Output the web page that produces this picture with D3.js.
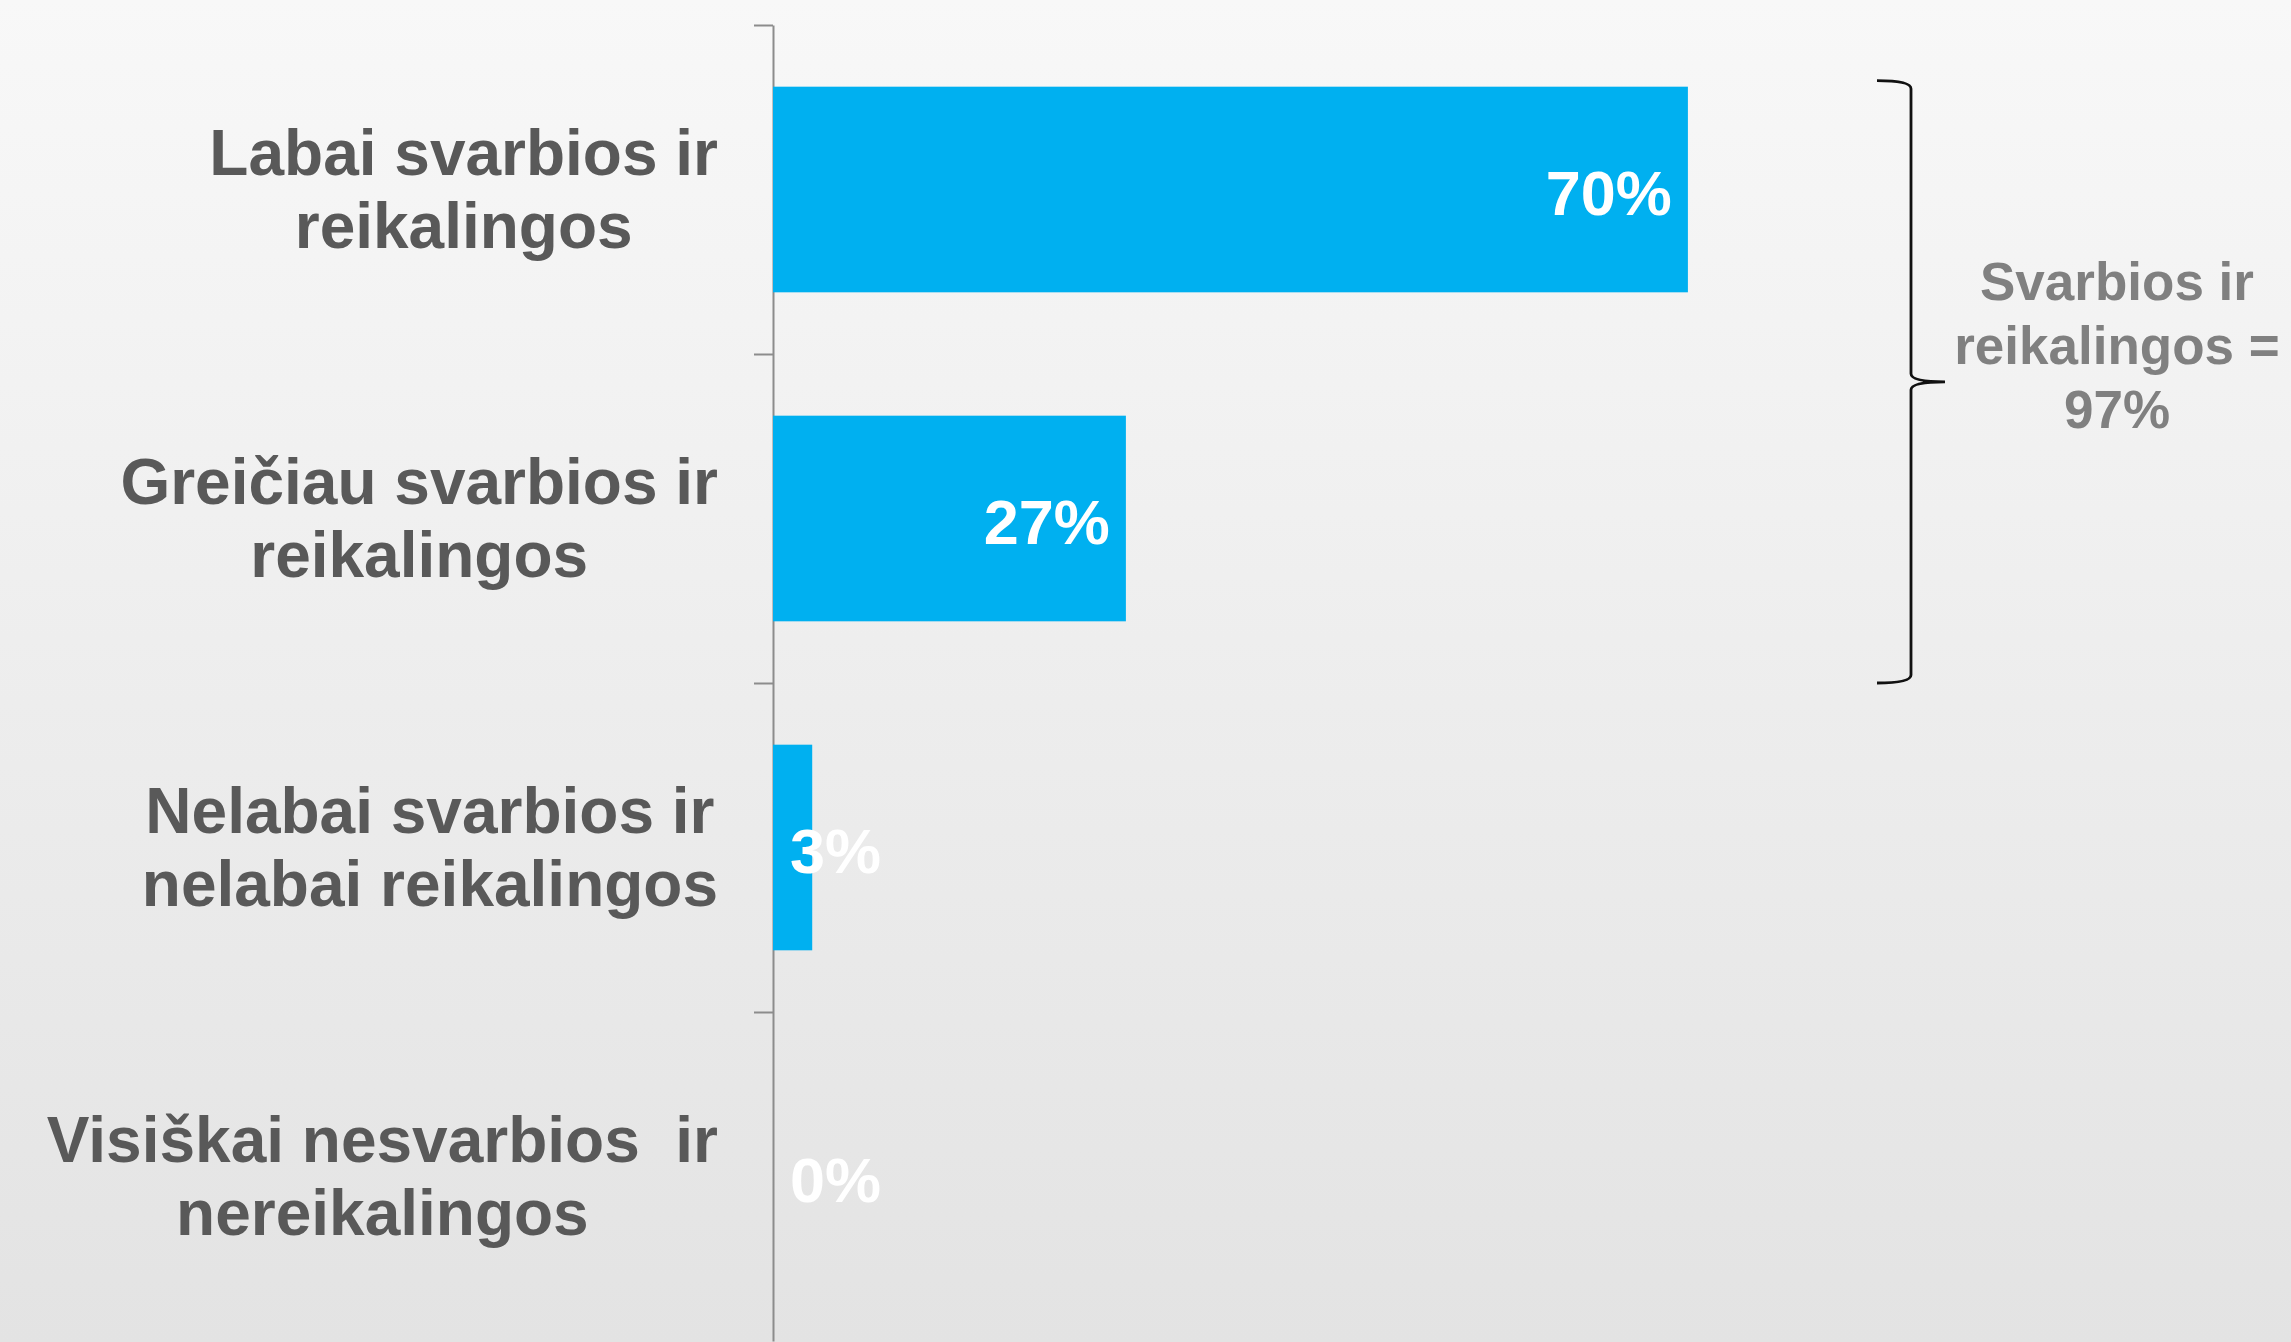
<!DOCTYPE html>
<html>
<head>
    <meta charset="utf-8">
    <title>Svarbios ir reikalingos</title>
    <script src="https://d3js.org/d3.v7.min.js"></script>
    <style>
        body { margin: 0; overflow: hidden; }
        svg { display: block; font-family: "Liberation Sans", Arial, sans-serif; font-weight: bold; }
        .cat { fill: #595959; font-size: 64px; white-space: pre; }
        .val { fill: #fff; font-size: 63px; }
        .note { fill: #808080; font-size: 53px; }
        .axis path, .axis line { stroke: #8c8c8c; stroke-width: 2; }
    </style>
</head>
<body>
    <div id="chart"></div>
    <script>
        const categories = ["labai", "greiciau", "nelabai", "visiskai"];
        const values = [70, 27, 3, 0];
        const valueLabels = ["70%", "27%", "3%", "0%"];
        const categoryLines = [
            ["Labai svarbios ir", "reikalingos"],
            ["Greičiau svarbios ir", "reikalingos"],
            ["Nelabai svarbios ir", "nelabai reikalingos"],
            ["Visiškai nesvarbios  ir", "nereikalingos"]
        ];
        const noteLines = ["Svarbios ir", "reikalingos =", "97%"];

        const width = 2291;
        const height = 1342;
        const x0 = 773;

        const svg = d3.select("#chart")
            .append("svg")
            .attr("width", width)
            .attr("height", height);

        // background gradient
        const grad = svg.append("defs").append("linearGradient")
            .attr("id", "bg").attr("x1", 0).attr("x2", 0).attr("y1", 0).attr("y2", 1);
        grad.append("stop").attr("offset", "0%").attr("stop-color", "#f8f8f8");
        grad.append("stop").attr("offset", "100%").attr("stop-color", "#e3e3e3");
        svg.append("rect").attr("width", width).attr("height", height).attr("fill", "url(#bg)");

        const x = d3.scaleLinear().domain([0, 100]).range([x0, x0 + 1307]);
        const y = d3.scaleBand()
            .domain(categories)
            .range([25, 1341])
            .paddingInner(0.375)
            .paddingOuter(0.1875);

        // axis with ticks between categories
        const yb = d3.scaleLinear().domain([0, categories.length]).range(y.range());
        svg.append("g")
            .attr("class", "axis")
            .attr("transform", `translate(${x0},0)`)
            .call(d3.axisLeft(yb).tickValues(d3.range(categories.length)).tickSize(19).tickSizeOuter(0).tickFormat(""));

        svg.selectAll(".bar")
            .data(categories)
            .enter()
            .append("rect")
            .attr("x", x(0))
            .attr("y", d => y(d))
            .attr("width", (d, i) => x(values[i]) - x(0))
            .attr("height", y.bandwidth())
            .attr("fill", "#00b0f0");

        // value labels, inside the bar end; small bars push it out
        svg.selectAll(".val")
            .data(categories)
            .enter()
            .append("text")
            .attr("class", "val")
            .attr("text-anchor", "end")
            .attr("x", (d, i) => Math.max(x(values[i]) - 16, x(0) + 108))
            .attr("y", d => y(d) + y.bandwidth() / 2 + 25)
            .text((d, i) => valueLabels[i]);

        // category labels: block right aligned, lines centred within it
        const labelRight = 718;
        categories.forEach((c, i) => {
            const g = svg.append("g");
            const cy = y(c) + y.bandwidth() / 2;
            const texts = g.selectAll("text")
                .data(categoryLines[i])
                .enter()
                .append("text")
                .attr("class", "cat")
                .attr("text-anchor", "middle")
                .attr("y", (d, j) => cy - 15 + j * 73)
                .text(d => d);
            const maxW = d3.max(texts.nodes(), n => n.getComputedTextLength());
            texts.attr("x", labelRight - maxW / 2);
        });

        // brace around the first two categories
        const bTop = y(categories[0]) - 6;
        const bBot = y(categories[1]) + y.bandwidth() + y.step() * y.paddingInner() / 2;
        const bMid = (bTop + bBot) / 2;
        const bx = 1877, sx = 1911, mx = 1945;
        const brace = d3.path();
        brace.moveTo(bx, bTop);
        brace.quadraticCurveTo(sx, bTop, sx, bTop + 8);
        brace.lineTo(sx, bMid - 8);
        brace.quadraticCurveTo(sx, bMid, mx, bMid);
        brace.quadraticCurveTo(sx, bMid, sx, bMid + 8);
        brace.lineTo(sx, bBot - 8);
        brace.quadraticCurveTo(sx, bBot, bx, bBot);
        svg.append("path")
            .attr("d", brace.toString())
            .attr("fill", "none")
            .attr("stroke", "#111")
            .attr("stroke-width", 2.8);

        svg.selectAll(".note")
            .data(noteLines)
            .enter()
            .append("text")
            .attr("class", "note")
            .attr("text-anchor", "middle")
            .attr("x", 2117)
            .attr("y", (d, i) => 300 + i * 64)
            .text(d => d);
    </script>
</body>
</html>
